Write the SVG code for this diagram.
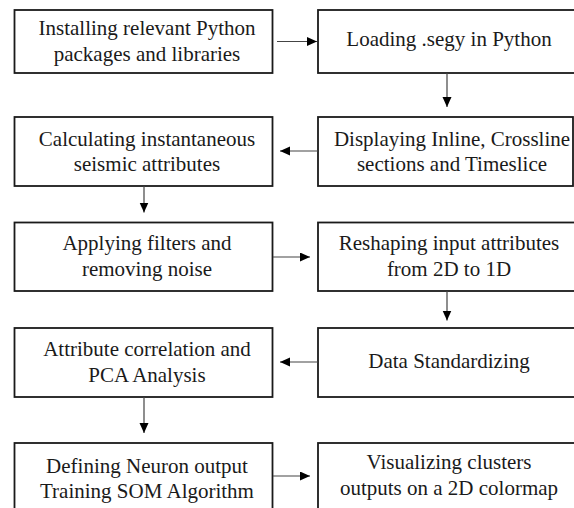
<svg xmlns="http://www.w3.org/2000/svg" width="574" height="508" viewBox="0 0 574 508">
<defs>
<marker id="ah" markerUnits="userSpaceOnUse" markerWidth="11" markerHeight="10" refX="10" refY="4.5" orient="auto">
<path d="M0,0 L10,4.5 L0,9 Z" fill="#000"/>
</marker>
<style>
.box{fill:#fff;stroke:#1a1a1a;stroke-width:1.8}
.t{font-family:"Liberation Serif","Times New Roman",serif;font-size:21px;fill:#1a1a1a;text-anchor:middle}
.c{stroke:#444;stroke-width:1.2;fill:none;marker-end:url(#ah)}
</style>
</defs>
<rect width="574" height="508" fill="#fff"/>
<g id="n1"><rect class="box" x="14.5" y="10" width="258" height="63"/>
<text class="t" x="147" y="35">Installing relevant Python</text>
<text class="t" x="147" y="61">packages and libraries</text></g>
<g id="n2"><rect class="box" x="318" y="10" width="264" height="63"/>
<text class="t" x="449" y="46">Loading .segy in Python</text></g>
<g id="n3"><rect class="box" x="14.5" y="117" width="258" height="69"/>
<text class="t" x="147" y="145.5">Calculating instantaneous</text>
<text class="t" x="147" y="171">seismic attributes</text></g>
<g id="n4"><rect class="box" x="318" y="117" width="255" height="69"/>
<text class="t" x="452" y="145.5">Displaying Inline, Crossline</text>
<text class="t" x="452" y="171">sections and Timeslice</text></g>
<g id="n5"><rect class="box" x="14.5" y="222.5" width="258" height="68.5"/>
<text class="t" x="147" y="250">Applying filters and</text>
<text class="t" x="147" y="275.5">removing noise</text></g>
<g id="n6"><rect class="box" x="318" y="222.5" width="264" height="68.5"/>
<text class="t" x="449" y="250">Reshaping input attributes</text>
<text class="t" x="449" y="275.5">from 2D to 1D</text></g>
<g id="n7"><rect class="box" x="14.5" y="328" width="258" height="69"/>
<text class="t" x="147" y="356">Attribute correlation and</text>
<text class="t" x="147" y="382">PCA Analysis</text></g>
<g id="n8"><rect class="box" x="318" y="328" width="264" height="69"/>
<text class="t" x="449" y="368">Data Standardizing</text></g>
<g id="n9"><rect class="box" x="14.5" y="443" width="258" height="80"/>
<text class="t" x="147" y="472.5">Defining Neuron output</text>
<text class="t" x="147" y="497.5">Training SOM Algorithm</text></g>
<g id="n10"><rect class="box" x="318" y="443" width="264" height="80"/>
<text class="t" x="449" y="469">Visualizing clusters</text>
<text class="t" x="449" y="495">outputs on a 2D colormap</text></g>
<g id="connectors">
<line class="c" x1="277" y1="41.5" x2="317" y2="41.5"/>
<line class="c" x1="447" y1="73" x2="447" y2="107"/>
<line class="c" x1="318" y1="151" x2="280" y2="151"/>
<line class="c" x1="144" y1="186" x2="144" y2="212.5"/>
<line class="c" x1="273" y1="257" x2="310" y2="257"/>
<line class="c" x1="447" y1="291" x2="447" y2="320.5"/>
<line class="c" x1="318" y1="362" x2="280" y2="362"/>
<line class="c" x1="144" y1="397" x2="144" y2="433"/>
<line class="c" x1="273" y1="476" x2="310" y2="476"/>
</g>
</svg>
